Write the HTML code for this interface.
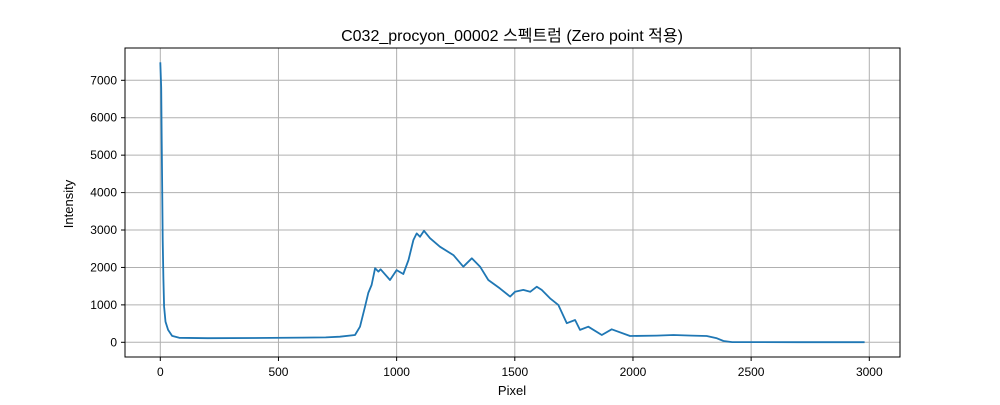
<!DOCTYPE html>
<html><head><meta charset="utf-8"><style>
body{margin:0;background:#fff;}
svg text{font-family:"Liberation Sans","Noto Sans CJK KR",sans-serif;fill:#000;}
</style></head><body>
<svg id="chart" width="1000" height="400" xmlns="http://www.w3.org/2000/svg">
<text x="512" y="41" text-anchor="middle" font-size="16">C032_procyon_00002 스펙트럼 (Zero point 적용)</text>
<g id="grid"></g>
<g id="ticks"></g>
<path id="line" fill="none" stroke="#1f77b4" stroke-width="1.8" stroke-linejoin="round"/>
<rect x="125" y="48" width="775" height="309" fill="none" stroke="#000" stroke-width="1"/>
<text x="512" y="395" text-anchor="middle" font-size="13">Pixel</text>
<text transform="translate(73,204) rotate(-90)" text-anchor="middle" font-size="13">Intensity</text>
</svg>
<script>
const xValues=[0,4,6,8,10,13,16,22,33,50,80,200,400,600,700,760,824,845,866,880,894,909,923,932,972,1000,1028,1050,1071,1085,1099,1116,1141,1183,1240,1282,1318,1353,1388,1437,1480,1501,1536,1565,1593,1614,1649,1684,1720,1755,1776,1811,1868,1910,1988,2100,2171,2250,2312,2355,2383,2420,2700,2980];
const yValues=[7480,6800,5400,4100,2730,1700,950,550,330,170,120,110,115,125,130,150,195,417,950,1320,1530,1980,1890,1950,1665,1930,1825,2200,2733,2910,2820,2980,2780,2555,2330,2020,2245,2020,1665,1440,1220,1350,1400,1350,1485,1400,1175,1000,510,595,330,417,195,347,168,180,195,180,168,107,35,5,3,3];
const xTicks=[0,500,1000,1500,2000,2500,3000];
const yTicks=[0,1000,2000,3000,4000,5000,6000,7000];
const X=v=>160.3+v*709/3000;
const Y=v=>342.3-v*262/7000;
const ns="http://www.w3.org/2000/svg";
const grid=document.getElementById('grid'),ticks=document.getElementById('ticks');
function mk(t,a,p){const e=document.createElementNS(ns,t);for(const k in a)e.setAttribute(k,a[k]);p.appendChild(e);return e;}
xTicks.forEach(v=>{
 const g=mk('line',{x1:X(v),x2:X(v),y1:48,y2:357,stroke:'#b0b0b0','stroke-width':1},grid);
 
 
 const t=mk('line',{x1:X(v),x2:X(v),y1:357,y2:361,stroke:'#000'},ticks);
 
 
 const l=mk('text',{x:X(v),y:376,'text-anchor':'middle','font-size':12},ticks);
 l.textContent=v;
 
 
});
yTicks.forEach(v=>{
 const g=mk('line',{x1:125,x2:900,y1:Y(v),y2:Y(v),stroke:'#b0b0b0','stroke-width':1},grid);
 
 
 const t=mk('line',{x1:121,x2:125,y1:Y(v),y2:Y(v),stroke:'#000'},ticks);
 
 
 const l=mk('text',{x:117,y:Y(v)+4,'text-anchor':'end','font-size':12},ticks);
 l.textContent=v;
 
 
});
document.getElementById('line').setAttribute('d',xValues.map((x,i)=>(i?'L':'M')+X(x).toFixed(1)+','+Y(yValues[i]).toFixed(1)).join(''));
</script>
</body></html>
